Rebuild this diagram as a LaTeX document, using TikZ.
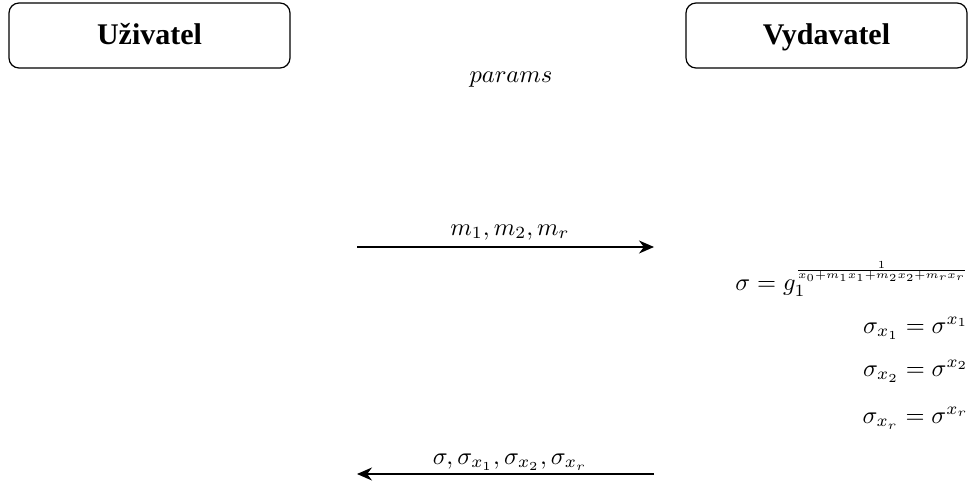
\documentclass[tikz,border=0pt]{standalone}
\usepackage{fontspec}
\usepackage[]{amsmath}
\usepackage{graphicx}
\usepackage{tikz}
\usetikzlibrary{arrows.meta}
\newfontfamily\actorfont{Liberation Serif}

\tikzset{
    actor/.style={draw, line width=1.2pt, rounded corners=10pt,
        minimum width=281pt, minimum height=65pt, text height=24pt, text depth=5pt,
        font=\actorfont\bfseries\fontsize{30}{35}\selectfont},
    msg/.style={scale=2.45, transform shape, inner sep=0pt},
    msgarrow/.style={line width=1.6pt, -{Stealth[length=15pt,width=13pt]}},
}

\begin{document}
\begin{tikzpicture}[x=1pt,y=-1pt]
        \useasboundingbox (0,0) rectangle (968,484);
        \node[actor] (user) at (149.5,35.5) {Uživatel};
        \node[actor] (issuer) at (826.5,35.5) {Vydavatel};
        \node[msg] (params) at (511,80) {$params$};
        % request
        \coordinate (reqstart) at (357,247);
        \coordinate (reqend) at (654,247);
        \draw[msgarrow] (reqstart) -- (reqend);
        \node[msg,anchor=base] (reqlabel) at (510,235) {$m_1, m_2, m_r$};
        % signing
        \node[msg,anchor=base east] (sig) at (969,290) {$\sigma = g_1^{\raisebox{2.5pt}{\scalebox{0.88}{$\scriptscriptstyle\frac{1}{x_0+m_1x_1+m_2x_2+m_rx_r}$}}}$};
        \node[msg,anchor=base east] (sigone) at (969,333) {$\sigma_{x_1} = \sigma^{x_1}$};
        \node[msg,anchor=base east] (sigtwo) at (969,376) {$\sigma_{x_2} = \sigma^{x_2}$};
        \node[msg,anchor=base east] (sigr) at (969,423) {$\sigma_{x_r} = \sigma^{x_r}$};
        % response
        \coordinate (resstart) at (654,474);
        \coordinate (resend) at (357,474);
        \draw[msgarrow] (resstart) -- (resend);
        \node[msg,anchor=base] (reslabel) at (510,464) {$\sigma, \sigma_{x_1}, \sigma_{x_2}, \sigma_{x_r}$};
    \end{tikzpicture}
\end{document}
